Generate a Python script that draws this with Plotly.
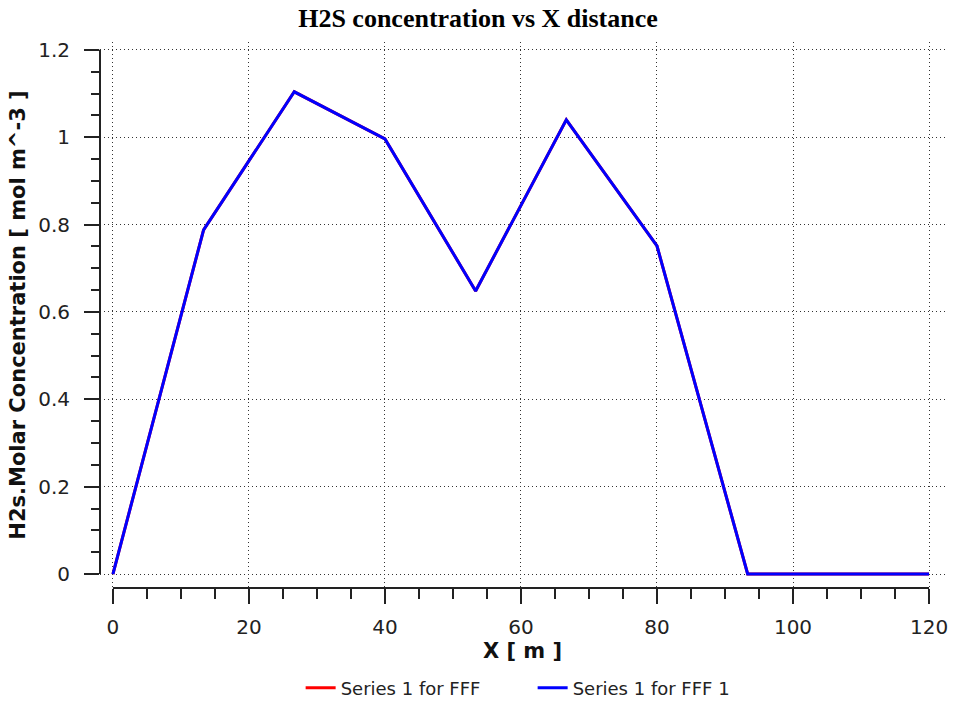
import plotly.graph_objects as go

x_vals = [0, 13.333, 26.667, 40, 53.333, 66.667, 80, 93.333, 106.667, 120]
y_fff = [0, 0.788, 1.104, 0.996, 0.648, 1.040, 0.751, 0, 0, 0]
y_fff1 = [0, 0.788, 1.104, 0.996, 0.648, 1.040, 0.751, 0, 0, 0]
x_ticks = [0, 20, 40, 60, 80, 100, 120]
y_ticks = [0, 0.2, 0.4, 0.6, 0.8, 1, 1.2]

tick_font = dict(family="DejaVu Sans", size=20, color="#222222")
title_font = dict(family="DejaVu Sans", size=21, color="#111111")

fig = go.Figure()
fig.add_trace(go.Scatter(x=x_vals, y=y_fff, mode="lines", name="Series 1 for FFF",
                         line=dict(color="#ff0000", width=3)))
fig.add_trace(go.Scatter(x=x_vals, y=y_fff1, mode="lines", name="Series 1 for FFF 1",
                         line=dict(color="#0000ff", width=3)))

grid = dict(showgrid=True, gridcolor="#333333", gridwidth=1, griddash="1px,3px",
            zeroline=False, showline=False, ticks="outside", ticklen=15,
            tickwidth=2, tickcolor="#222222", tickfont=tick_font)

fig.update_xaxes(range=[-1.9, 122.35], tickvals=x_ticks, ticktext=[str(v) for v in x_ticks],
                 minor=dict(dtick=5, tick0=0, ticks="outside", ticklen=10, tickwidth=2,
                            tickcolor="#222222", showgrid=False),
                 title=dict(text="<b>X [ m ]</b>", font=title_font, standoff=3),
                 ticklabelstandoff=6, **grid)
fig.update_yaxes(range=[-0.032, 1.218], tickvals=y_ticks,
                 ticktext=["0", "0.2", "0.4", "0.6", "0.8", "1", "1.2"],
                 minor=dict(dtick=0.05, tick0=0, ticks="outside", ticklen=8, tickwidth=2,
                            tickcolor="#222222", showgrid=False),
                 title=dict(text="<b>H2s.Molar Concentration [ mol m^-3 ]</b>", font=title_font, standoff=6),
                 ticklabelstandoff=10, **grid)

fig.add_shape(type="line", xref="x", yref="paper", x0=0, x1=120, y0=0, y1=0,
              line=dict(color="#222222", width=2))
fig.add_shape(type="line", xref="paper", yref="y", x0=0, x1=0, y0=0, y1=1.2,
              line=dict(color="#222222", width=2))

fig.update_layout(
    width=956, height=702,
    margin=dict(l=100, r=11, t=42, b=114, autoexpand=False),
    paper_bgcolor="white", plot_bgcolor="white",
    title=dict(text="<b>H2S concentration vs X distance</b>", x=0.5, xanchor="center",
               y=1 - 18 / 702, yanchor="middle",
               font=dict(family="Liberation Serif", size=26, color="#000000")),
    legend=dict(orientation="h", x=0.512, xanchor="center",
                yref="container", y=(702 - 688) / 702, yanchor="middle",
                font=dict(family="DejaVu Sans", size=18, color="#222222"),
                entrywidth=187, entrywidthmode="pixels"),
    showlegend=True,
)

fig.write_html("out.html")
